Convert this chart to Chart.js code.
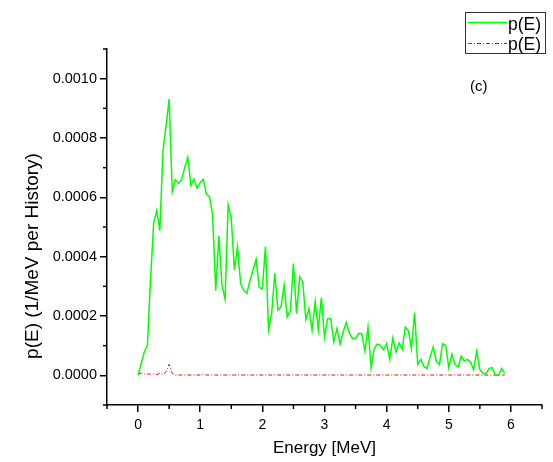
<!DOCTYPE html>
<html lang="en">
<head>
  <meta charset="UTF-8" />
  <title>p(E) spectrum</title>
  <script src="https://cdn.jsdelivr.net/npm/chart.js"></script>
  <style>
    html, body { margin: 0; padding: 0; background: #fff; }
    #wrap { width: 553px; height: 462px; position: relative; }
  </style>
</head>
<body>
  <div id="wrap"><canvas id="spectrum"></canvas></div>

  <script>
    // energy grid (MeV)
    const energy = [
      0.00, 0.05, 0.10, 0.15, 0.20, 0.25, 0.30, 0.35, 0.40, 0.45,
      0.50, 0.55, 0.60, 0.65, 0.70, 0.75, 0.80, 0.85, 0.90, 0.95,
      1.00, 1.05, 1.10, 1.15, 1.20, 1.25, 1.30, 1.35, 1.40, 1.45,
      1.50, 1.55, 1.60, 1.65, 1.70, 1.75, 1.80, 1.85, 1.90, 1.95,
      2.00, 2.05, 2.10, 2.15, 2.20, 2.25, 2.30, 2.35, 2.40, 2.45,
      2.50, 2.55, 2.60, 2.65, 2.70, 2.75, 2.80, 2.85, 2.90, 2.95,
      3.00, 3.05, 3.10, 3.15, 3.20, 3.25, 3.30, 3.35, 3.40, 3.45,
      3.50, 3.55, 3.60, 3.65, 3.70, 3.75, 3.80, 3.85, 3.90, 3.95,
      4.00, 4.05, 4.10, 4.15, 4.20, 4.25, 4.30, 4.35, 4.40, 4.45,
      4.50, 4.55, 4.60, 4.65, 4.70, 4.75, 4.80, 4.85, 4.90, 4.95,
      5.00, 5.05, 5.10, 5.15, 5.20, 5.25, 5.30, 5.35, 5.40, 5.45,
      5.50, 5.55, 5.60, 5.65, 5.70, 5.75, 5.80, 5.85, 5.90
    ];

    // green series p(E)
    const pTotal = [
      0.000000, 0.000040, 0.000079, 0.000101, 0.000320, 0.000512, 0.000555, 0.000488, 0.000754, 0.000840,
      0.000931, 0.000619, 0.000659, 0.000647, 0.000659, 0.000700, 0.000735, 0.000640, 0.000661, 0.000631,
      0.000650, 0.000661, 0.000610, 0.000602, 0.000540, 0.000285, 0.000471, 0.000304, 0.000257, 0.000574,
      0.000529, 0.000355, 0.000434, 0.000310, 0.000287, 0.000276, 0.000319, 0.000355, 0.000391, 0.000296,
      0.000292, 0.000434, 0.000154, 0.000208, 0.000344, 0.000220, 0.000231, 0.000304, 0.000197, 0.000217,
      0.000377, 0.000208, 0.000332, 0.000315, 0.000188, 0.000225, 0.000152, 0.000248, 0.000154, 0.000262,
      0.000129, 0.000191, 0.000191, 0.000113, 0.000158, 0.000105, 0.000146, 0.000178, 0.000143, 0.000124,
      0.000124, 0.000141, 0.000141, 0.000082, 0.000163, 0.000026, 0.000090, 0.000105, 0.000101, 0.000087,
      0.000107, 0.000053, 0.000126, 0.000079, 0.000109, 0.000087, 0.000163, 0.000150, 0.000090, 0.000212,
      0.000037, 0.000054, 0.000030, 0.000023, 0.000062, 0.000096, 0.000047, 0.000036, 0.000107, 0.000101,
      0.000026, 0.000071, 0.000036, 0.000028, 0.000065, 0.000048, 0.000054, 0.000045, 0.000019, 0.000081,
      0.000019, 0.000006, 0.000006, 0.000023, 0.000026, 0.000000, 0.000000, 0.000023, 0.000008
    ];

    // red series p(E)
    const pSecond = [
      0.000005, 0.000008, 0.000005, 0.000005, 0.000004, 0.000004, 0.000003, 0.000006, 0.000002, 0.000012,
      0.000037, 0.000006, 0.000001, 0.000001, 0.000001, 0.000001, 0.000001, 0.000001, 0.000001, 0.000001,
      0.000001, 0.000003, 0.000001, 0.000001, 0.000001, 0.000001, 0.000001, 0.000001, 0.000001, 0.000001,
      0.000001, 0.000001, 0.000001, 0.000001, 0.000001, 0.000001, 0.000001, 0.000001, 0.000001, 0.000001,
      0.000001, 0.000001, 0.000001, 0.000001, 0.000001, 0.000001, 0.000001, 0.000001, 0.000001, 0.000001,
      0.000001, 0.000001, 0.000001, 0.000001, 0.000001, 0.000001, 0.000001, 0.000001, 0.000001, 0.000001,
      0.000001, 0.000001, 0.000001, 0.000001, 0.000001, 0.000001, 0.000001, 0.000001, 0.000001, 0.000001,
      0.000001, 0.000001, 0.000001, 0.000001, 0.000001, 0.000001, 0.000001, 0.000001, 0.000001, 0.000001,
      0.000001, 0.000001, 0.000001, 0.000001, 0.000001, 0.000001, 0.000001, 0.000001, 0.000001, 0.000001,
      0.000001, 0.000001, 0.000001, 0.000001, 0.000001, 0.000001, 0.000001, 0.000001, 0.000001, 0.000001,
      0.000001, 0.000001, 0.000001, 0.000001, 0.000001, 0.000001, 0.000001, 0.000001, 0.000001, 0.000001,
      0.000001, 0.000001, 0.000001, 0.000001, 0.000001, 0.000001, 0.000001, 0.000001, 0.000001
    ];

    const xTicks = [0, 1, 2, 3, 4, 5, 6];
    const xMinor = [-0.5, 0.5, 1.5, 2.5, 3.5, 4.5, 5.5, 6.5];
    const yTicks = [0, 0.0002, 0.0004, 0.0006, 0.0008, 0.0010];
    const yMinor = [-0.0001, 0.0001, 0.0003, 0.0005, 0.0007, 0.0009, 0.0011];

    const FONT = "'Liberation Sans', Arial, sans-serif";

    // short minor ticks, y title, legend box and panel label
    const extras = {
      id: 'extras',
      afterDraw(chart) {
        const ctx = chart.ctx;
        const xs = chart.scales.x, ys = chart.scales.y;
        const area = chart.chartArea;
        ctx.save();
        ctx.strokeStyle = '#000';
        ctx.lineWidth = 1.5;
        xMinor.forEach(v => {
          const px = xs.getPixelForValue(v);
          ctx.beginPath();
          ctx.moveTo(px, area.bottom);
          ctx.lineTo(px, area.bottom + 4);
          ctx.stroke();
        });
        yMinor.forEach(v => {
          const py = ys.getPixelForValue(v);
          ctx.beginPath();
          ctx.moveTo(area.left, py);
          ctx.lineTo(area.left - 4, py);
          ctx.stroke();
        });

        // y title, sitting a bit below the axis middle as in the original
        ctx.save();
        ctx.translate(33, 256);
        ctx.rotate(-Math.PI / 2);
        ctx.fillStyle = '#000';
        ctx.font = '19px ' + FONT;
        ctx.textAlign = 'center';
        ctx.textBaseline = 'middle';
        ctx.fillText('p(E) (1/MeV per History)', 0, 0);
        ctx.restore();

        // legend
        ctx.lineWidth = 1;
        ctx.strokeStyle = '#333';
        ctx.strokeRect(465.5, 12.5, 80, 41);
        ctx.lineWidth = 1.5;
        ctx.strokeStyle = '#00ff00';
        ctx.beginPath();
        ctx.moveTo(468, 22.5);
        ctx.lineTo(507, 22.5);
        ctx.stroke();
        ctx.lineWidth = 1;
        ctx.strokeStyle = '#ff0000';
        ctx.setLineDash([4, 2, 1, 2]);
        ctx.beginPath();
        ctx.moveTo(468, 43.5);
        ctx.lineTo(507, 43.5);
        ctx.stroke();
        ctx.setLineDash([]);
        ctx.fillStyle = '#000';
        ctx.font = '17.5px ' + FONT;
        ctx.textBaseline = 'middle';
        ctx.textAlign = 'left';
        ctx.fillText('p(E)', 508, 25);
        ctx.fillText('p(E)', 508, 45);
        ctx.font = '15px ' + FONT;
        ctx.fillText('(c)', 470, 87);
        ctx.restore();
      }
    };

    new Chart(document.getElementById('spectrum'), {
      type: 'line',
      data: {
        datasets: [
          {
            label: 'p(E)',
            data: energy.map((e, i) => ({ x: e, y: pTotal[i] })),
            borderColor: '#00ff00',
            borderWidth: 1.5,
            pointRadius: 0,
            tension: 0
          },
          {
            label: 'p(E)',
            data: energy.map((e, i) => ({ x: e, y: pSecond[i] })),
            borderColor: '#ff0000',
            borderWidth: 1,
            borderDash: [4, 2, 1, 2],
            pointRadius: 0,
            tension: 0
          }
        ]
      },
      options: {
        responsive: true,
        maintainAspectRatio: false,
        animation: false,
        layout: { padding: { top: 49, right: 11, left: 0, bottom: 0 } },
        plugins: {
          legend: { display: false },
          tooltip: { enabled: false }
        },
        scales: {
          x: {
            type: 'linear',
            min: -0.5,
            max: 6.5,
            afterBuildTicks: s => { s.ticks = xTicks.map(v => ({ value: v })); },
            afterFit: s => { s.height = 57; },
            border: { display: true, color: '#000', width: 1.5 },
            grid: { drawOnChartArea: false, drawTicks: true, tickLength: 7, tickColor: '#000', lineWidth: 1.5 },
            ticks: { color: '#000', font: { family: FONT, size: 14 }, padding: 5, maxRotation: 0, callback: v => v },
            title: { display: true, text: 'Energy [MeV]', color: '#000', font: { family: FONT, size: 17 }, padding: 3 }
          },
          y: {
            min: -0.0001,
            max: 0.0011,
            afterBuildTicks: s => { s.ticks = yTicks.map(v => ({ value: v })); },
            afterFit: s => { s.width = 107; },
            border: { display: true, color: '#000', width: 1.5 },
            grid: { drawOnChartArea: false, drawTicks: true, tickLength: 7, tickColor: '#000', lineWidth: 1.5 },
            ticks: { color: '#000', font: { family: FONT, size: 14.5 }, padding: 3, callback: v => v.toFixed(4) }
          }
        }
      },
      plugins: [extras]
    });
  </script>
</body>
</html>
